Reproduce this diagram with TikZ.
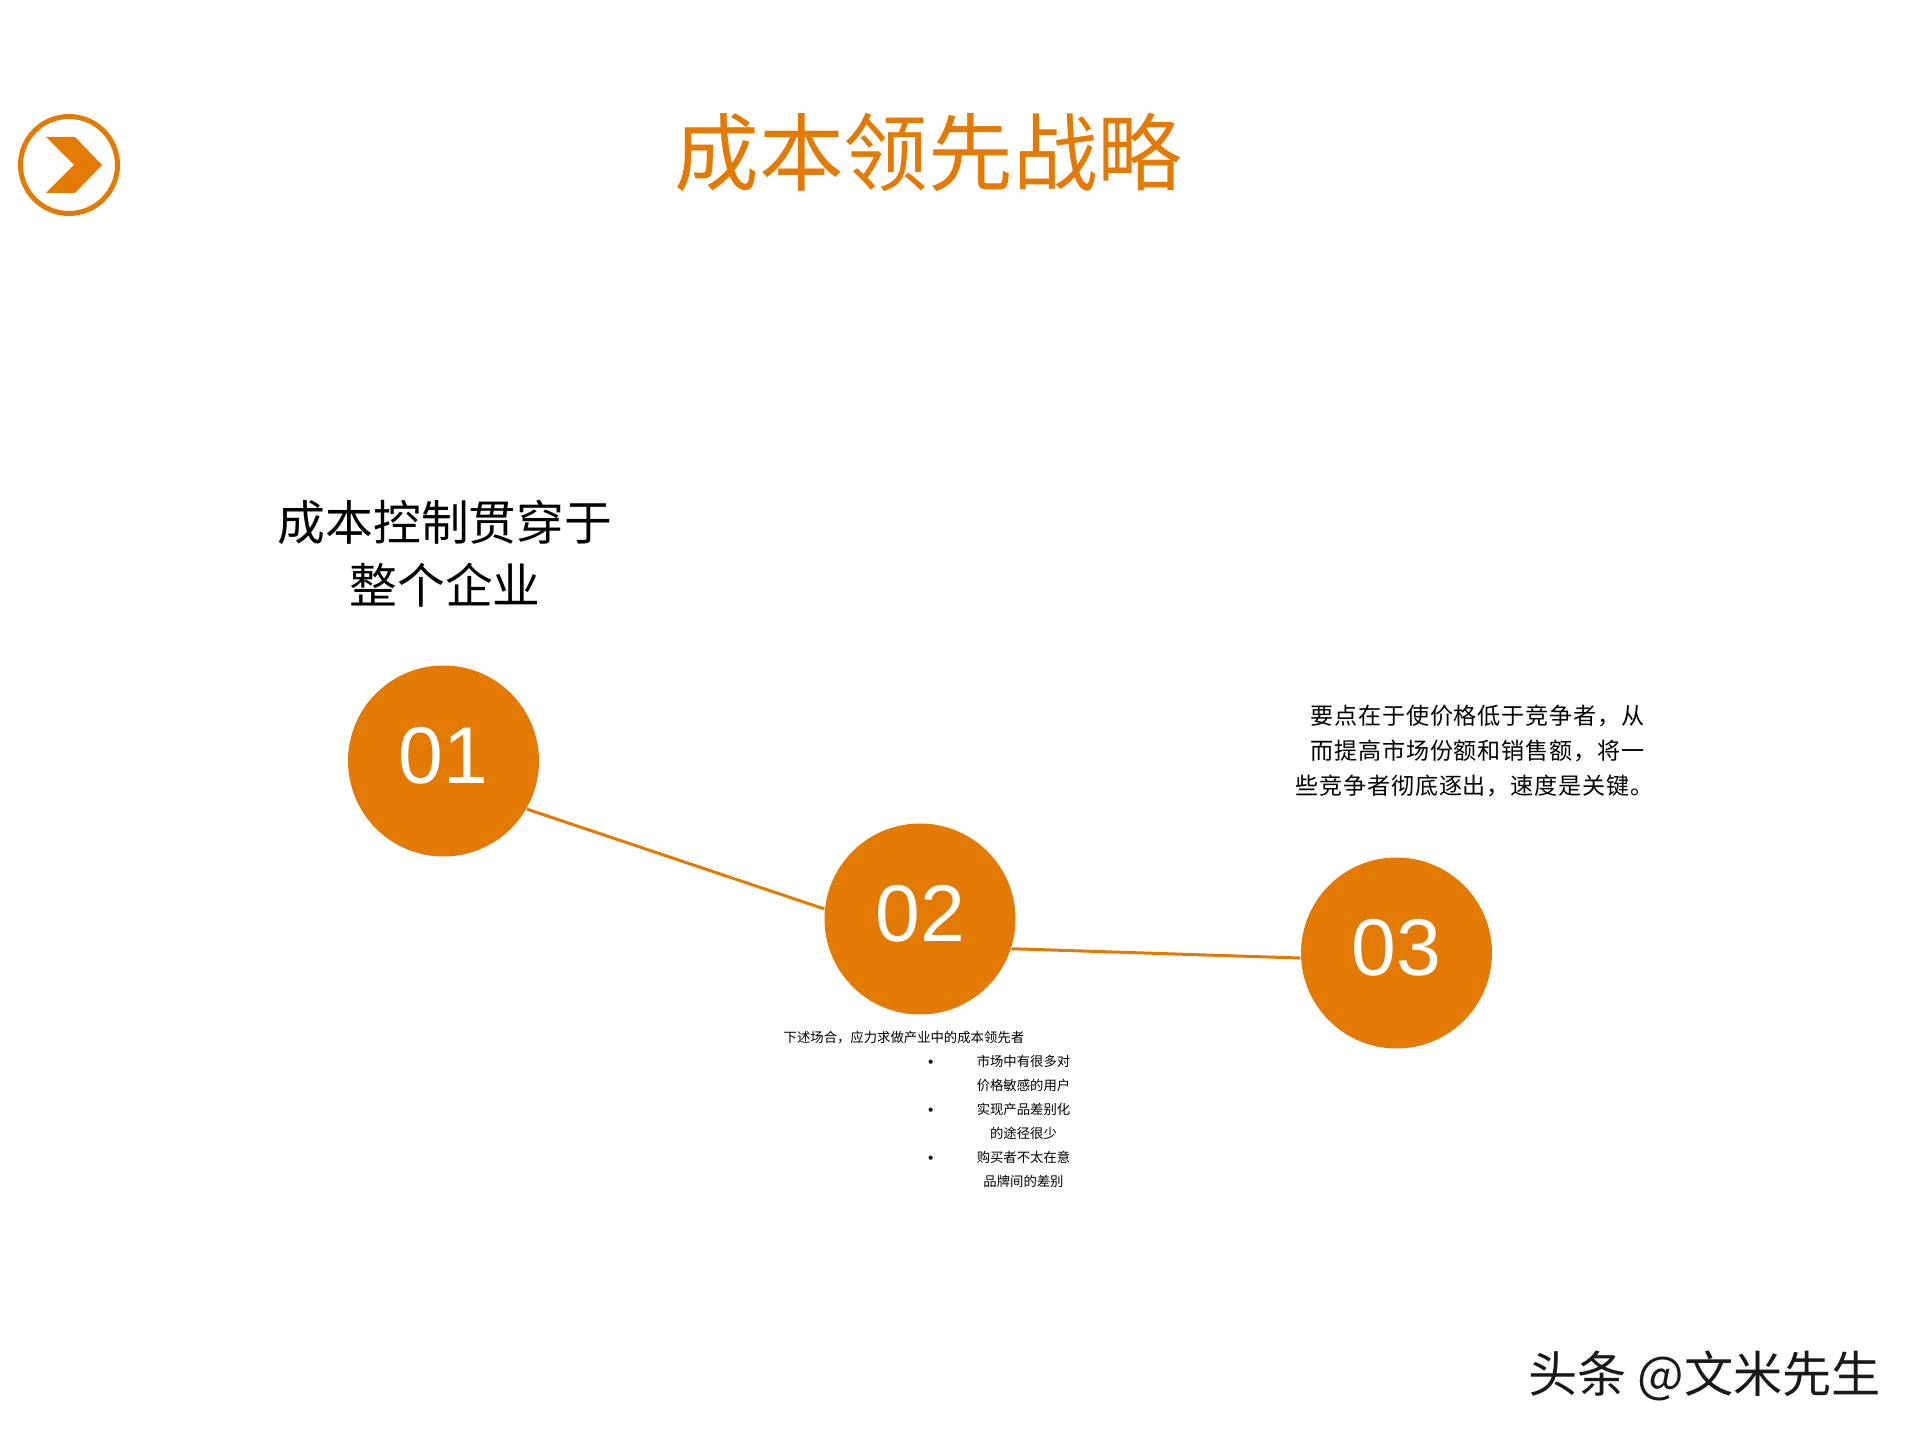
\documentclass[tikz,border=0pt]{standalone}
\usepackage{fontspec}
\setmainfont{Noto Sans CJK SC}
\newfontfamily\numfont{Liberation Sans}
\newfontfamily\parafont[LetterSpace=3.5]{Noto Sans CJK SC}
\usetikzlibrary{positioning}
\definecolor{leadorange}{HTML}{E37A04}
\tikzset{
	numdisc/.style={circle, fill=leadorange, text=white, inner sep=0pt, minimum size=1.91cm, font=\numfont\fontsize{22.9}{24}\selectfont},
	link/.style={draw=leadorange, line width=0.03cm},
	smalltxt/.style={inner sep=0pt, font=\fontsize{3.8}{4.5}\selectfont},
	dottxt/.style={inner sep=0pt, font=\fontsize{5.5}{6}\selectfont},
	paratxt/.style={inner sep=0pt, align=right, font=\parafont\fontsize{6.57}{9.96}\selectfont}
}

\begin{document}
\begin{tikzpicture}
	\useasboundingbox (0,0) rectangle (19.2,14.4);
	% badge
	\node[circle, draw=leadorange, line width=0.05cm, minimum size=0.97cm, inner sep=0pt] (badge) at (0.69,12.75) {};
	\fill[leadorange] (0.46,13.03) -- (0.75,13.03) -- (1.02,12.75) -- (0.75,12.47) -- (0.46,12.47) -- (0.74,12.75) -- cycle;
	\node[inner sep=0pt, text=leadorange, font=\fontsize{24.1}{28}\selectfont] (title) at (9.285,12.88) {成本领先战略};

	% heading above 01
	\node[inner sep=0pt, align=center, font=\fontsize{13.6}{17.9}\selectfont] (head) at (4.45,8.865) {成本控制贯穿于\\整个企业};

	\node[numdisc] (one) at (4.435,6.79) {\raisebox{0.115cm}{01}};
	\node[numdisc] (two) at (9.20,5.21) {\raisebox{0.115cm}{02}};
	\node[numdisc] (three) at (13.965,4.87) {\raisebox{0.115cm}{03}};
	\draw[link] (one.-30) -- (two.174);
	\draw[link] (two.-18) -- (three.183);

	\node[paratxt, anchor=east] (para) at (16.45,6.89) {要点在于使价格低于竞争者，从\\而提高市场份额和销售额，将一\\些竞争者彻底逐出，速度是关键。\kern-0.09cm};

	% list under 02
	\node[smalltxt, anchor=west] (lead) at (7.83,4.02) {下述场合，应力求做产业中的成本领先者};
	\node[dottxt] (bulleta) at (9.31,3.755) {•};
	\node[dottxt] (bulletb) at (9.31,3.275) {•};
	\node[dottxt] (bulletc) at (9.31,2.795) {•};
	\node[smalltxt] (itema) at (10.235,3.79) {市场中有很多对};
	\node[smalltxt] (itemb) at (10.235,3.55) {价格敏感的用户};
	\node[smalltxt] (itemc) at (10.235,3.31) {实现产品差别化};
	\node[smalltxt] (itemd) at (10.235,3.07) {的途径很少};
	\node[smalltxt] (iteme) at (10.235,2.83) {购买者不太在意};
	\node[smalltxt] (itemf) at (10.235,2.59) {品牌间的差别};

	\node[inner sep=0pt, text=black!90, font=\fontsize{14}{16}\selectfont] (mark) at (17.045,0.645) {头条 @文米先生};
\end{tikzpicture}
\end{document}
